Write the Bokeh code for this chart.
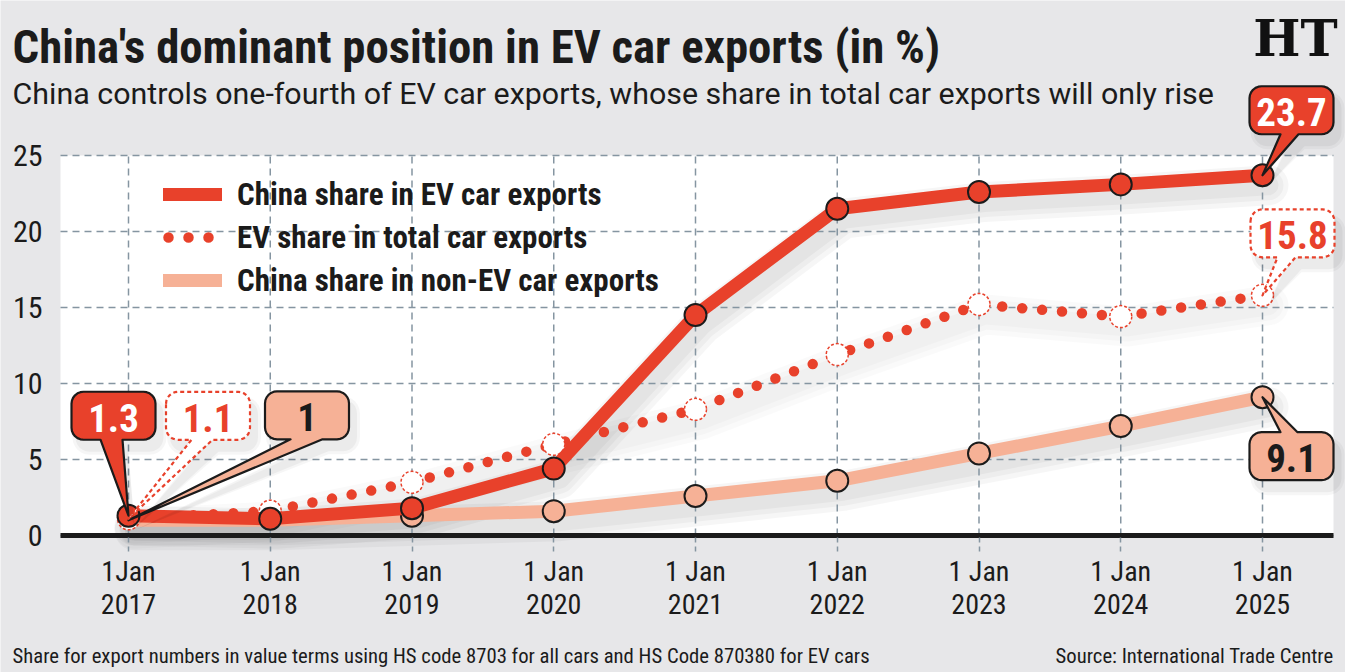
import math

from bokeh.core.properties import value
from bokeh.embed import file_html
from bokeh.models import FixedTicker, Label, Legend, LegendItem, Range1d, BoxAnnotation
from bokeh.plotting import figure
from bokeh.resources import INLINE

# ---------------------------------------------------------------- data
years = [2017, 2018, 2019, 2020, 2021, 2022, 2023, 2024, 2025]
x_tick_labels = ["1Jan\n2017", "1 Jan\n2018", "1 Jan\n2019", "1 Jan\n2020", "1 Jan\n2021",
                 "1 Jan\n2022", "1 Jan\n2023", "1 Jan\n2024", "1 Jan\n2025"]
china_ev_share = [1.3, 1.1, 1.8, 4.4, 14.5, 21.5, 22.6, 23.1, 23.7]
ev_share_of_exports = [1.1, 1.6, 3.5, 6.0, 8.3, 11.9, 15.2, 14.4, 15.8]
china_non_ev_share = [1.0, 1.0, 1.3, 1.6, 2.6, 3.6, 5.4, 7.2, 9.1]
y_ticks = [0, 5, 10, 15, 20, 25]
series_names = ["China share in EV car exports",
                "EV share in total car exports",
                "China share in non-EV car exports"]

title_text = "China's dominant position in EV car exports (in %)"
subtitle_text = ("China controls one-fourth of EV car exports, "
                 "whose share in total car exports will only rise")
note_text = ("Share for export numbers in value terms using HS code 8703 "
             "for all cars and HS Code 870380 for EV cars")
source_text = "Source: International Trade Centre"

# ---------------------------------------------------------------- style
COND = "'Roboto Condensed', 'Liberation Sans Narrow', 'DejaVu Sans Condensed', sans-serif"
PLAIN = "Roboto, 'Open Sans', sans-serif"
BG = "#e7e7e9"
INK = "#1b1b1b"
RED = "#e8412b"
SALMON = "#f6b196"
GRID = "#8595a1"

# the frame fills the whole canvas; pixel anchors of the chart panel
W, H = 1345, 672
PANEL_L, PANEL_R = 60, 1333           # white panel, left/right edges
FIRST_X_PX, LAST_X_PX = 128, 1262     # first/last year columns
ZERO_PX, TOP_TICK_PX = 535, 155       # rows of the 0 and of the highest y tick
SHADOW_DX, SHADOW_DY = 6, 10          # drop-shadow offset, px

PX_X = (LAST_X_PX - FIRST_X_PX) / (years[-1] - years[0])
PX_Y = (ZERO_PX - TOP_TICK_PX) / (y_ticks[-1] - y_ticks[0])


def xd(px):
    return years[0] + (px - FIRST_X_PX) / PX_X


def yd(py):
    return y_ticks[0] + (ZERO_PX - py) / PX_Y


p = figure(width=W, height=H, x_range=Range1d(xd(0), xd(W)), y_range=Range1d(yd(H), yd(0)),
           min_border=0, output_backend="svg", toolbar_location=None,
           background_fill_color=BG, border_fill_color=BG, outline_line_color=None)
p.xgrid.visible = False
p.ygrid.visible = False

# white panel behind the series, up to the top tick
p.add_layout(BoxAnnotation(left=xd(PANEL_L), right=xd(PANEL_R), bottom=y_ticks[0],
                           top=y_ticks[-1], fill_color="white", fill_alpha=1,
                           line_color=None, level="image"))

# soft shadows under the series
for vals, strength in ((china_non_ev_share, 1.0), (ev_share_of_exports, 0.6),
                       (china_ev_share, 1.0)):
    sx = [x + SHADOW_DX / PX_X for x in years]
    sy = [v - SHADOW_DY / PX_Y for v in vals]
    for w in (40, 30, 20):
        p.line(sx, sy, line_color="black", line_alpha=0.035 * strength, line_width=w,
               line_cap="round", line_join="round", level="underlay")

# dashed grid inside the panel
n_y, n_x = len(y_ticks), len(years)
p.segment(x0=[xd(PANEL_L)] * n_y, y0=y_ticks, x1=[xd(PANEL_R)] * n_y, y1=y_ticks,
          line_color=GRID, line_dash="7 5", line_width=1.5, level="underlay")
p.segment(x0=years, y0=[y_ticks[0]] * n_x, x1=years, y1=[y_ticks[-1]] * n_x,
          line_color=GRID, line_dash="7 5", line_width=1.5, level="underlay")

# axes pinned inside the frame
xax = p.xaxis[0]
xax.fixed_location = y_ticks[0]
xax.bounds = (xd(PANEL_L), xd(PANEL_R))
xax.ticker = FixedTicker(ticks=years)
xax.major_label_overrides = {y: lbl for y, lbl in zip(years, x_tick_labels)}
xax.axis_line_color = INK
xax.axis_line_width = 5
xax.major_tick_out = 16
xax.major_tick_in = 0
xax.major_tick_line_color = GRID
xax.major_tick_line_dash = "5 4"
xax.major_tick_line_width = 1.5
xax.minor_tick_line_color = None
xax.major_label_standoff = 3
xax.major_label_text_font = COND
xax.major_label_text_font_size = "28px"
xax.major_label_text_line_height = 1.0
xax.major_label_text_color = INK

yax = p.yaxis[0]
yax.fixed_location = xd(PANEL_L)
yax.bounds = (y_ticks[0], y_ticks[-1])
yax.ticker = FixedTicker(ticks=y_ticks)
yax.axis_line_color = None
yax.major_tick_line_color = None
yax.minor_tick_line_color = None
yax.major_label_standoff = 12
yax.major_label_text_font = COND
yax.major_label_text_font_size = "30px"
yax.major_label_text_color = INK

# series (the first two non-EV points sit under the EV markers, so they get no marker)
non_ev_line = p.line(years, china_non_ev_share, line_color=SALMON, line_width=13,
                     line_cap="round", line_join="round")
p.scatter(years[2:], china_non_ev_share[2:], size=22, fill_color=SALMON, line_color=INK,
          line_width=2)

ev_total_line = p.line(years, ev_share_of_exports, line_color=RED, line_width=10.5,
                       line_dash="0 20", line_dash_offset=15, line_cap="round",
                       line_join="round")
p.scatter(years, ev_share_of_exports, size=22, fill_color="white", line_color=RED,
          line_width=1.5, line_dash="3 2")

ev_line = p.line(years, china_ev_share, line_color=RED, line_width=13,
                 line_cap="round", line_join="round")
p.scatter(years, china_ev_share, size=22, fill_color=RED, line_color=INK, line_width=2)

legend = Legend(items=[LegendItem(label=series_names[0], renderers=[ev_line]),
                       LegendItem(label=series_names[1], renderers=[ev_total_line]),
                       LegendItem(label=series_names[2], renderers=[non_ev_line])],
                location=(163, H - 300), orientation="vertical",
                glyph_width=59, glyph_height=40, label_height=40, spacing=3,
                padding=0, margin=0, label_standoff=15,
                border_line_color=None, background_fill_alpha=0,
                label_text_font=COND, label_text_font_style="bold",
                label_text_font_size="31px", label_text_color=INK)
p.add_layout(legend)


# ---------------------------------------------------------------- value call-outs
def bubble(x, y, cx, cy, w, h, r, b0, b1, edge, shift=(0, 0)):
    """Rounded box centred (cx, cy) px away from (x, y) with a pointer to (x, y)."""
    l, rt, t, b = cx - w / 2, cx + w / 2, cy - h / 2, cy + h / 2
    pts = []

    def arc(ax, ay, a0, a1):
        for k in range(7):
            a = math.radians(a0 + (a1 - a0) * k / 6)
            pts.append((ax + r * math.cos(a), ay + r * math.sin(a)))

    arc(l + r, t + r, 180, 270)
    if edge == "top":
        pts.extend([(cx + b0, t), (0, 0), (cx + b1, t)])
    arc(rt - r, t + r, 270, 360)
    arc(rt - r, b - r, 0, 90)
    if edge == "bottom":
        pts.extend([(cx + b1, b), (0, 0), (cx + b0, b)])
    arc(l + r, b - r, 90, 180)
    return ([x + (dx + shift[0]) / PX_X for dx, _ in pts],
            [y - (dy + shift[1]) / PX_Y for _, dy in pts])


callouts = [
    # values, index, box offset (px), pointer base (px from box centre), edge, fill, line, dash, text
    (china_non_ev_share, 0, 178.5, -105, -16.5, 15.5, "bottom", SALMON, INK, "solid", INK),
    (ev_share_of_exports, 0, 79.5, -103, -16.5, 4.5, "bottom", "white", RED, "4 3", RED),
    (china_ev_share, 0, -15, -100, -13, 9, "bottom", RED, INK, "solid", "white"),
    (china_ev_share, -1, 29, -65, -11, 7, "bottom", RED, INK, "solid", "white"),
    (ev_share_of_exports, -1, 30, -62, -15, 3, "bottom", "white", RED, "4 3", RED),
    (china_non_ev_share, -1, 29, 59, -11, 6, "top", SALMON, INK, "solid", INK),
]

for vals, i, cx, cy, b0, b1, edge, fill, line, dash, tcol in callouts:
    x, y = years[i], vals[i]
    for grow, alpha in ((10, 0.035), (4, 0.045)):
        xs, ys = bubble(x, y, cx, cy, 84 + grow, 48 + grow, 12 + grow / 2, b0, b1, edge,
                        shift=(SHADOW_DX, SHADOW_DY))
        p.patch(xs, ys, fill_color="black", fill_alpha=alpha, line_color=None)
    xs, ys = bubble(x, y, cx, cy, 84, 48, 12, b0, b1, edge)
    p.patch(xs, ys, fill_color=fill, line_color=line, line_width=2.2, line_dash=dash,
            line_join="round")
    p.text(x=[x], y=[y], text=[f"{y:g}"], x_offset=cx, y_offset=cy + 2,
           text_align="center", text_baseline="middle", text_color=tcol,
           text_font=value(COND), text_font_style="bold", text_font_size="39px")


# ---------------------------------------------------------------- titles and notes
def screen_label(cx, baseline, text, size, **kw):
    # the label's anchor sits about 0.36 em above the drawn baseline
    p.add_layout(Label(x=cx, y=H - baseline + 0.36 * size, x_units="screen", y_units="screen",
                       text=text, text_baseline="alphabetic", text_font_size=f"{size}px",
                       **kw))


screen_label(12, 63, title_text, 46.8, text_font=COND, text_font_style="bold", text_color=INK)
screen_label(12, 104, subtitle_text, 30.4, text_font=PLAIN, text_color=INK)
screen_label(12, 663, note_text, 20.7, text_font=COND, text_color=INK)
screen_label(PANEL_R, 663, source_text, 20.7, text_font=COND, text_color=INK,
             text_align="right")
screen_label(1295, 56, "HT", 50, text_font="'DejaVu Serif', serif", text_font_style="bold",
             text_color="#111111", text_align="center")

open("out.html", "w").write(file_html(p, INLINE))
